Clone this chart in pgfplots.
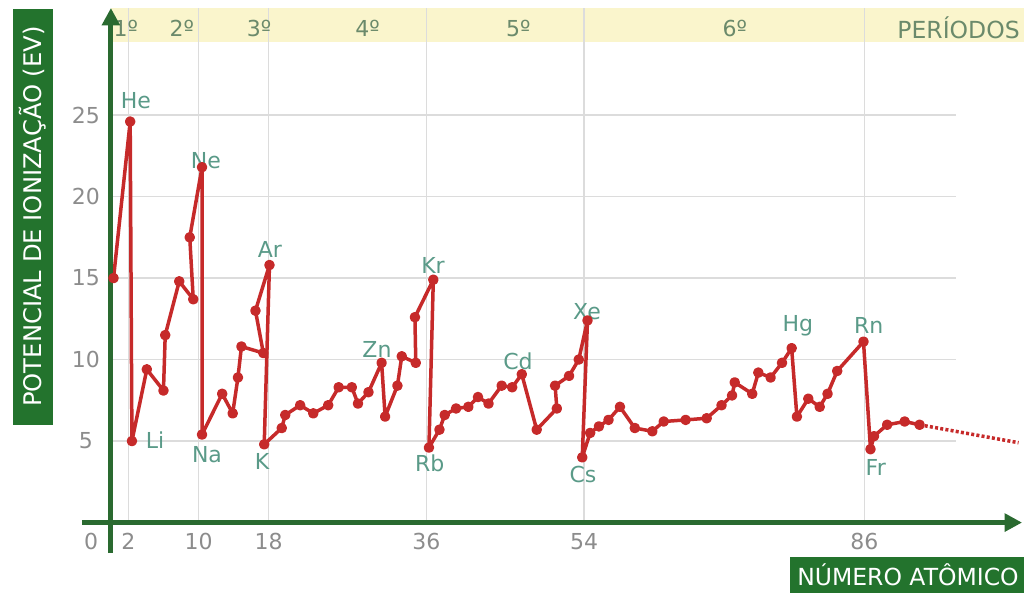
\documentclass[border=0pt]{standalone}
\usepackage{fontspec}
\setmainfont{DejaVu Sans}
\usepackage{pgfplots}
\pgfplotsset{compat=1.18}
\usetikzlibrary{arrows.meta}
\definecolor{axgreen}{HTML}{2A6A30}
\definecolor{boxgreen}{HTML}{23732D}
\definecolor{bandyellow}{HTML}{FAF5CC}
\definecolor{gridgray}{HTML}{DCDCDC}
\definecolor{linered}{HTML}{C62A2A}
\definecolor{elem}{HTML}{5A9A88}
\definecolor{tickgray}{HTML}{8C8C8C}
\definecolor{pergreen}{HTML}{6B8A6B}
\newcommand{\lf}{\fontsize{8.8}{10}\selectfont}
\begin{document}
\begin{tikzpicture}
\begin{axis}[
  x=3.5044pt, y=6.52pt,
  xmin=-3.3, xmax=104.0, ymin=-1.87, ymax=31.57,
  enlargelimits=false,
  axis lines=middle,
  axis line style={draw=axgreen, line width=2pt, -{Triangle[length=7pt,width=7pt]}},
  axis on top,
  clip=false,
  xtick={2,10,18,36,54,86}, xticklabels={2,10,18,36,54,86},
  ytick={5,10,15,20,25}, yticklabels={5,10,15,20,25},
  major tick length=0pt,
  tick style={draw=none},
  xticklabel style={anchor=center, yshift=-7.6pt, text=tickgray, font=\lf},
  yticklabel style={anchor=center, xshift=-10pt, text=tickgray, font=\lf},
]
% period band
\fill[bandyellow] (axis cs:0,29.48) rectangle (axis cs:104.22,31.57);
% grid lines
\draw[gridgray, line width=0.6pt] (axis cs:0,5) -- (axis cs:96.5,5);
\draw[gridgray, line width=0.6pt] (axis cs:0,10) -- (axis cs:96.5,10);
\draw[gridgray, line width=0.6pt] (axis cs:0,15) -- (axis cs:96.5,15);
\draw[gridgray, line width=0.6pt] (axis cs:0,20) -- (axis cs:96.5,20);
\draw[gridgray, line width=0.6pt] (axis cs:0,25) -- (axis cs:96.5,25);
\draw[gridgray, line width=0.6pt] (axis cs:2,0) -- (axis cs:2,31.57);
\draw[gridgray, line width=0.6pt] (axis cs:10,0) -- (axis cs:10,31.57);
\draw[gridgray, line width=0.6pt] (axis cs:18,0) -- (axis cs:18,31.57);
\draw[gridgray, line width=0.6pt] (axis cs:36,0) -- (axis cs:36,31.57);
\draw[gridgray, line width=0.6pt] (axis cs:54,0) -- (axis cs:54,31.57);
\draw[gridgray, line width=0.6pt] (axis cs:86,0) -- (axis cs:86,31.57);
% data
\addplot[linered, line width=1.4pt, line join=round, mark=*, mark size=1.4pt, mark options={fill=linered, draw=linered, solid}] coordinates {
(0.3,15.0) (2.2,24.6) (2.4,5.0) (4.1,9.4) (6.0,8.1) (6.2,11.5) (7.8,14.8) (9.4,13.7) (9.0,17.5) (10.4,21.8)
(10.4,5.4) (12.7,7.9) (13.9,6.7) (14.5,8.9) (14.9,10.8) (17.4,10.4) (16.5,13.0) (18.1,15.8)
(17.5,4.8) (19.5,5.8) (19.9,6.6) (21.6,7.2) (23.1,6.7) (24.8,7.2) (26.0,8.3) (27.5,8.3) (28.2,7.3) (29.4,8.0)
(30.9,9.8) (31.3,6.5) (32.7,8.4) (33.2,10.2) (34.8,9.8) (34.7,12.6) (36.8,14.9)
(36.3,4.6) (37.5,5.7) (38.1,6.6) (39.4,7.0) (40.8,7.1) (41.9,7.7) (43.1,7.3) (44.6,8.4) (45.8,8.3) (46.9,9.1)
(48.6,5.7) (50.9,7.0) (50.7,8.4) (52.3,9.0) (53.4,10.0) (54.4,12.4)
(53.8,4.0) (54.7,5.5) (55.7,5.9) (56.8,6.3) (58.1,7.1) (59.8,5.8) (61.8,5.6) (63.1,6.2) (65.6,6.3) (68.0,6.4)
(69.7,7.2) (70.9,7.8) (71.2,8.6) (73.2,7.9) (73.9,9.2) (75.3,8.9) (76.6,9.8) (77.7,10.7)
(78.3,6.5) (79.6,7.6) (80.9,7.1) (81.8,7.9) (82.9,9.3) (85.9,11.1)
(86.7,4.5) (87.1,5.3) (88.6,6.0) (90.6,6.2) (92.3,6.0)
};
\addplot[linered, line width=1.4pt, dash pattern=on 1.2pt off 0.9pt] coordinates {(92.3,6.0) (103.6,4.9)};
% element labels
\node[text=elem, font=\lf] at (axis cs:2.86,25.86) {He};
\node[text=elem, font=\lf] at (axis cs:10.85,22.2) {Ne};
\node[text=elem, font=\lf] at (axis cs:5.03,5.07) {Li};
\node[text=elem, font=\lf] at (axis cs:10.97,4.14) {Na};
\node[text=elem, font=\lf] at (axis cs:17.25,3.72) {K};
\node[text=elem, font=\lf] at (axis cs:18.15,16.78) {Ar};
\node[text=elem, font=\lf] at (axis cs:30.37,10.64) {Zn};
\node[text=elem, font=\lf] at (axis cs:36.77,15.8) {Kr};
\node[text=elem, font=\lf] at (axis cs:36.4,3.66) {Rb};
\node[text=elem, font=\lf] at (axis cs:46.47,9.9) {Cd};
\node[text=elem, font=\lf] at (axis cs:54.34,12.96) {Xe};
\node[text=elem, font=\lf] at (axis cs:53.88,2.92) {Cs};
\node[text=elem, font=\lf] at (axis cs:78.4,12.1) {Hg};
\node[text=elem, font=\lf] at (axis cs:86.5,12.07) {Rn};
\node[text=elem, font=\lf] at (axis cs:87.3,3.35) {Fr};
% period labels
\node[text=pergreen, font=\lf] at (axis cs:1.7,30.34) {1º};
\node[text=pergreen, font=\lf] at (axis cs:8.1,30.34) {2º};
\node[text=pergreen, font=\lf] at (axis cs:16.9,30.34) {3º};
\node[text=pergreen, font=\lf] at (axis cs:29.3,30.34) {4º};
\node[text=pergreen, font=\lf] at (axis cs:46.5,30.34) {5º};
\node[text=pergreen, font=\lf] at (axis cs:71.2,30.34) {6º};
\node[text=pergreen, font=\fontsize{9.4}{11}\selectfont] at (axis cs:96.75,30.34) {PERÍODOS};
% zero label
\node[text=tickgray, font=\lf] at (axis cs:-2.27,-1.17) {0};
% axis title boxes
\fill[boxgreen] (axis cs:-11.21,5.99) rectangle (axis cs:-6.64,31.51);
\node[rotate=90, text=white, font=\fontsize{9.7}{11}\selectfont] at (axis cs:-8.925,18.78) {POTENCIAL DE IONIZAÇÃO (EV)};
\fill[boxgreen] (axis cs:77.51,-2.11) rectangle (axis cs:104.22,-4.32);
\node[text=white, font=\fontsize{9.4}{11}\selectfont] at (axis cs:90.98,-3.21) {NÚMERO ATÔMICO};
\coordinate (BL) at (axis cs:-12.658,-4.319);
\coordinate (TR) at (axis cs:104.22,32.06);
\end{axis}
\pgfresetboundingbox
\path[use as bounding box] (BL) rectangle (TR);
\end{tikzpicture}
\end{document}
